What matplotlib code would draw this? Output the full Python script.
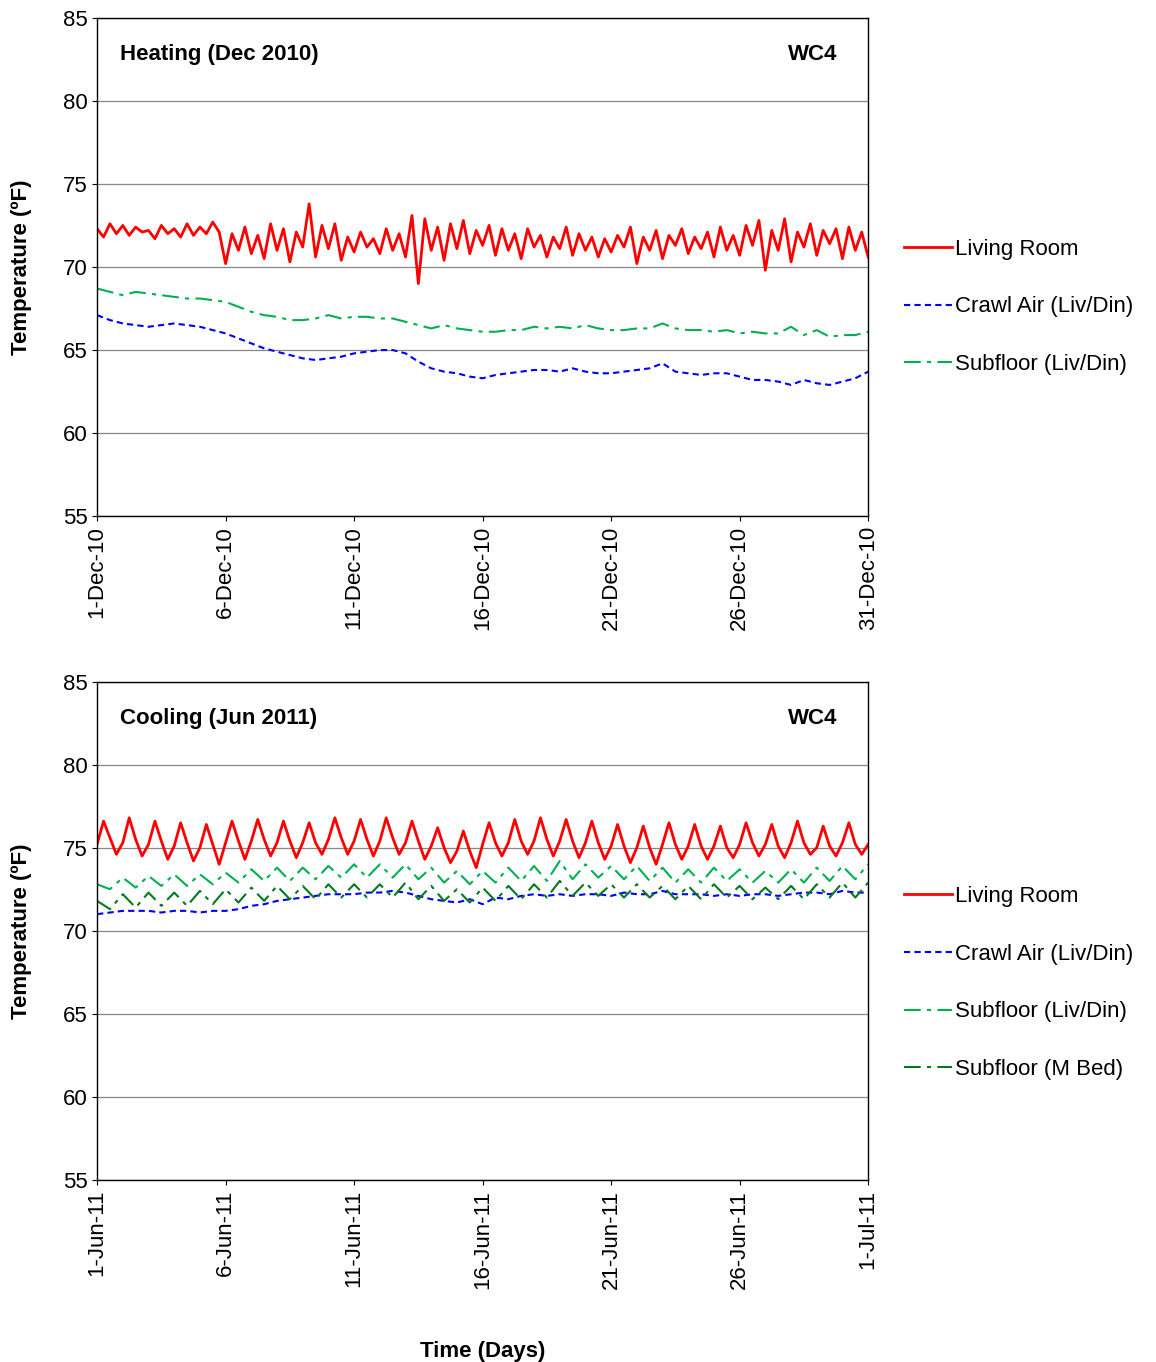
import numpy as np
import matplotlib
matplotlib.use("Agg")
import matplotlib.pyplot as plt

# ---- December 2010 (heating) ----
# living room, every 6 hours from 1-Dec 00:00
dec_living = [72.3, 71.8, 72.6, 72.0, 72.5, 71.9, 72.4, 72.1, 72.2, 71.7, 72.5, 72.0,
              72.3, 71.8, 72.6, 71.9, 72.4, 72.0, 72.7, 72.1,
              70.2, 72.0, 71.0, 72.4, 70.8, 71.9, 70.5, 72.6, 71.0, 72.3, 70.3, 72.1,
              71.2, 73.8, 70.6, 72.5, 71.1, 72.6, 70.4, 71.8, 70.9, 72.1, 71.2, 71.7,
              70.8, 72.3, 71.0, 72.0, 70.6, 73.1, 69.0, 72.9, 71.0, 72.4, 70.4, 72.6,
              71.1, 72.8, 70.8, 72.2, 71.3, 72.5, 70.7, 72.3, 71.0, 72.0, 70.5, 72.3,
              71.2, 71.9, 70.6, 71.8, 71.1, 72.4, 70.7, 72.0, 71.0, 71.8, 70.6, 71.7,
              70.9, 71.9, 71.2, 72.4, 70.2, 71.8, 71.0, 72.2, 70.5, 71.9, 71.3, 72.3,
              70.8, 71.8, 71.1, 72.1, 70.6, 72.4, 71.0, 71.9, 70.7, 72.5, 71.3, 72.8,
              69.8, 72.2, 71.0, 72.9, 70.3, 72.1, 71.2, 72.6, 70.7, 72.2, 71.4, 72.3,
              70.5, 72.4, 71.0, 72.1, 70.6]
# crawl air and subfloor, every 12 hours
dec_crawl = [67.1, 66.8, 66.6, 66.5, 66.4, 66.5, 66.6, 66.5, 66.4, 66.2, 66.0, 65.7,
             65.4, 65.1, 64.9, 64.7, 64.5, 64.4, 64.5, 64.6, 64.8, 64.9, 65.0, 65.0,
             64.8, 64.3, 63.9, 63.7, 63.6, 63.4, 63.3, 63.5, 63.6, 63.7, 63.8, 63.8,
             63.7, 63.9, 63.7, 63.6, 63.6, 63.7, 63.8, 63.9, 64.2, 63.7, 63.6, 63.5,
             63.6, 63.6, 63.4, 63.2, 63.2, 63.1, 62.9, 63.2, 63.0, 62.9, 63.1, 63.3,
             63.7]
dec_subfloor = [68.7, 68.5, 68.3, 68.5, 68.4, 68.3, 68.2, 68.1, 68.1, 68.0, 67.9, 67.6,
                67.3, 67.1, 67.0, 66.8, 66.8, 66.9, 67.1, 66.9, 67.0, 67.0, 66.9, 66.9,
                66.7, 66.5, 66.3, 66.5, 66.3, 66.2, 66.1, 66.1, 66.2, 66.2, 66.4, 66.3,
                66.4, 66.3, 66.5, 66.3, 66.2, 66.2, 66.3, 66.3, 66.6, 66.3, 66.2, 66.2,
                66.1, 66.2, 66.0, 66.1, 66.0, 66.0, 66.4, 65.9, 66.2, 65.8, 65.9, 65.9,
                66.1]

# ---- June 2011 (cooling) ----
# living room, every 6 hours
jun_living = [75.2, 76.6, 75.6, 74.6, 75.3, 76.8, 75.5, 74.5, 75.2, 76.6, 75.4, 74.3,
              75.1, 76.5, 75.3, 74.2, 75.0, 76.4, 75.2, 74.0, 75.3, 76.6, 75.4, 74.3,
              75.4, 76.7, 75.5, 74.5, 75.3, 76.6, 75.4, 74.4, 75.3, 76.5, 75.3, 74.6,
              75.5, 76.8, 75.6, 74.6, 75.4, 76.7, 75.5, 74.5, 75.4, 76.8, 75.6, 74.6,
              75.3, 76.6, 75.4, 74.3, 75.1, 76.2, 75.0, 74.1, 74.8, 76.0, 74.8, 73.8,
              75.2, 76.5, 75.3, 74.5, 75.3, 76.7, 75.4, 74.6, 75.4, 76.8, 75.5, 74.5,
              75.4, 76.7, 75.4, 74.4, 75.3, 76.6, 75.3, 74.3, 75.1, 76.4, 75.1, 74.1,
              75.0, 76.3, 75.0, 74.0, 75.2, 76.5, 75.2, 74.3, 75.1, 76.4, 75.1, 74.3,
              75.1, 76.3, 75.0, 74.4, 75.2, 76.5, 75.3, 74.5, 75.2, 76.4, 75.1, 74.4,
              75.3, 76.6, 75.3, 74.6, 75.0, 76.3, 75.1, 74.5, 75.3, 76.5, 75.2, 74.6,
              75.2]
# crawl air, every 12 hours
jun_crawl = [71.0, 71.1, 71.2, 71.2, 71.2, 71.1, 71.2, 71.2, 71.1, 71.2, 71.2, 71.3,
             71.5, 71.6, 71.8, 71.9, 72.0, 72.1, 72.2, 72.2, 72.2, 72.3, 72.3, 72.4,
             72.3, 72.1, 71.9, 71.8, 71.7, 71.9, 71.6, 72.0, 71.9, 72.1, 72.2, 72.1,
             72.2, 72.1, 72.2, 72.2, 72.1, 72.3, 72.2, 72.2, 72.4, 72.2, 72.2, 72.2,
             72.1, 72.2, 72.1, 72.2, 72.2, 72.1, 72.2, 72.3, 72.3, 72.2, 72.4, 72.3,
             72.3]
# subfloors, daily peak and trough (every 12 hours)
jun_sub_liv = [72.8, 72.5, 73.2, 72.6, 73.3, 72.7, 73.4, 72.7, 73.4, 72.8, 73.5, 72.9,
               73.7, 73.0, 73.8, 73.0, 73.8, 73.1, 73.9, 73.2, 74.0, 73.2, 74.0, 73.2,
               74.0, 73.1, 73.8, 72.9, 73.6, 72.8, 73.6, 72.9, 73.8, 73.0, 73.9, 73.0,
               74.2, 73.1, 74.0, 73.2, 73.9, 73.1, 73.9, 73.0, 73.8, 72.9, 73.7, 72.9,
               73.8, 73.0, 73.7, 72.9, 73.6, 72.9, 73.7, 72.9, 73.8, 73.0, 73.9, 73.1,
               74.0]
jun_sub_bed = [71.8, 71.3, 72.2, 71.4, 72.3, 71.5, 72.3, 71.5, 72.4, 71.6, 72.5, 71.7,
               72.6, 71.8, 72.7, 71.9, 72.7, 71.9, 72.8, 72.0, 72.8, 72.0, 72.8, 72.0,
               72.9, 71.9, 72.7, 71.8, 72.5, 71.7, 72.6, 71.8, 72.7, 71.9, 72.8, 72.0,
               73.0, 72.1, 72.9, 72.1, 72.8, 72.0, 72.8, 72.0, 72.7, 71.9, 72.7, 71.9,
               72.8, 72.0, 72.7, 71.9, 72.6, 71.9, 72.7, 71.9, 72.8, 72.0, 72.9, 72.0,
               72.9]

dec_ticks = ["1-Dec-10", "6-Dec-10", "11-Dec-10", "16-Dec-10", "21-Dec-10", "26-Dec-10", "31-Dec-10"]
jun_ticks = ["1-Jun-11", "6-Jun-11", "11-Jun-11", "16-Jun-11", "21-Jun-11", "26-Jun-11", "1-Jul-11"]

RED, BLUE, GREEN, DGREEN = "#FF0000", "#0000FF", "#00B050", "#007A1F"

plt.rcParams['font.family'] = ['Liberation Sans', 'DejaVu Sans']


def days(vals, per_day):
    return np.arange(len(vals)) / per_day


def setup(ax, ticks, title):
    ax.set_xlim(0, 30)
    ax.set_ylim(55, 85)
    ax.set_yticks(range(55, 90, 5))
    ax.set_xticks(range(0, 31, 5))
    ax.set_xticklabels(ticks, rotation=90, fontsize=16)
    ax.tick_params(axis='y', labelsize=16)
    ax.yaxis.grid(True, color="#888888", lw=0.9)
    ax.set_ylabel("Temperature (ºF)", fontsize=16, fontweight='bold', labelpad=22)
    ax.text(0.03, 0.915, title, transform=ax.transAxes, fontsize=16, fontweight='bold')
    ax.text(0.96, 0.915, "WC4", transform=ax.transAxes, fontsize=16, fontweight='bold', ha='right')
    for s in ax.spines.values():
        s.set_linewidth(1)


fig = plt.figure(figsize=(11.56, 13.62), dpi=100)
ax1 = fig.add_axes([0.084, 0.621, 0.667, 0.366])
ax2 = fig.add_axes([0.084, 0.1336, 0.667, 0.366])

ax1.plot(days(dec_living, 4), dec_living, color=RED, lw=2, label="Living Room")
ax1.plot(days(dec_crawl, 2), dec_crawl, color=BLUE, lw=1.5, ls=(0, (3, 2)), label="Crawl Air (Liv/Din)")
ax1.plot(days(dec_subfloor, 2), dec_subfloor, color=GREEN, lw=1.5, ls=(0, (8, 3, 2, 3)), label="Subfloor (Liv/Din)")
setup(ax1, dec_ticks, "Heating (Dec 2010)")
ax1.legend(loc='center left', bbox_to_anchor=(1.02, 0.42), frameon=False, fontsize=16,
           handlelength=2.2, handletextpad=0.1, labelspacing=1.65)

ax2.plot(days(jun_living, 4), jun_living, color=RED, lw=2, label="Living Room")
ax2.plot(days(jun_crawl, 2), jun_crawl, color=BLUE, lw=1.5, ls=(0, (3, 2)), label="Crawl Air (Liv/Din)")
ax2.plot(days(jun_sub_liv, 2), jun_sub_liv, color=GREEN, lw=1.5, ls=(0, (8, 3, 2, 3)), label="Subfloor (Liv/Din)")
ax2.plot(days(jun_sub_bed, 2), jun_sub_bed, color=DGREEN, lw=1.5, ls=(0, (8, 3, 2, 3)), label="Subfloor (M Bed)")
setup(ax2, jun_ticks, "Cooling (Jun 2011)")
ax2.set_xlabel("Time (Days)", fontsize=16, fontweight='bold', labelpad=38)
ax2.legend(loc='center left', bbox_to_anchor=(1.02, 0.395), frameon=False, fontsize=16,
           handlelength=2.2, handletextpad=0.1, labelspacing=1.65)

fig.savefig("out.png", dpi=100)
